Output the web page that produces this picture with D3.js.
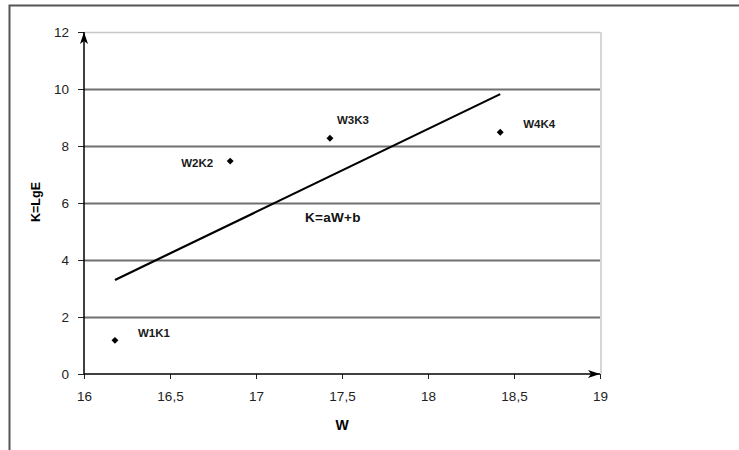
<!DOCTYPE html>
<html>
<head>
<meta charset="utf-8">
<script src="https://cdn.jsdelivr.net/npm/d3@7"></script>
<style>
  body { margin: 0; background: #fff; }
  svg { display: block; font-family: Arial, "Liberation Sans", sans-serif; }
</style>
</head>
<body>
<div id="root"></div>
<script>
// values
const pointLabels = ["W1K1", "W2K2", "W3K3", "W4K4"];
const wValues = [16.18, 16.85, 17.43, 18.42];
const kValues = [1.18, 7.47, 8.27, 8.48];
const fitW = [16.18, 18.42];
const fitK = [3.3, 9.82];
const xTicks = [16, 16.5, 17, 17.5, 18, 18.5, 19];
const yTicks = [0, 2, 4, 6, 8, 10, 12];

// label offsets from their point (px)
const labelDx = [23, -17, 7, 23];
const labelDy = [-3, 6, -14, -4];
const labelAnchor = ["start", "end", "start", "start"];

const W = 739, H = 450;
const plot = { left: 84, right: 600, top: 32, bottom: 374 };

const x = d3.scaleLinear().domain([16, 19]).range([plot.left, plot.right]);
const y = d3.scaleLinear().domain([0, 12]).range([plot.bottom, plot.top]);

const svg = d3.select("#root").append("svg").attr("width", W).attr("height", H);

// outer frame (runs off right and bottom edges)
svg.append("rect")
  .attr("x", 9.5).attr("y", 5.5)
  .attr("width", 760).attr("height", 460)
  .attr("fill", "none").attr("stroke", "#555").attr("stroke-width", 2);

// gridlines
svg.append("g")
  .selectAll("line")
  .data(yTicks.filter((d) => d > 0))
  .enter()
  .append("line")
  .attr("x1", plot.left).attr("x2", plot.right)
  .attr("y1", (d) => Math.round(y(d)) + 0.5).attr("y2", (d) => Math.round(y(d)) + 0.5)
  .attr("stroke", (d) => (d === 12 ? "#c8c8c8" : "#707070"))
  .attr("stroke-width", (d) => (d === 12 ? 1.5 : 2));

// right edge of plot area
svg.append("line")
  .attr("x1", plot.right + 1).attr("x2", plot.right + 1)
  .attr("y1", plot.top).attr("y2", plot.bottom)
  .attr("stroke", "#c8c8c8").attr("stroke-width", 1.5);

const yAxis = d3.axisLeft(y).tickValues(yTicks).tickSize(6).tickPadding(9)
  .tickFormat(d3.format("d"));
const xAxis = d3.axisBottom(x).tickValues(xTicks).tickSize(5).tickPadding(12)
  .tickFormat((d) => String(d).replace(".", ","));

const gy = svg.append("g").attr("transform", `translate(${plot.left},0)`).call(yAxis);
const gx = svg.append("g").attr("transform", `translate(0,${plot.bottom})`).call(xAxis);
[gy, gx].forEach((g) => {
  g.select(".domain").remove();
  g.selectAll("text").attr("font-size", 13.5).attr("fill", "#222")
    .attr("font-family", "Arial, 'Liberation Sans', sans-serif");
  g.selectAll(".tick line").attr("stroke", "#222");
});

// axes with arrow heads
svg.append("defs").append("marker")
  .attr("id", "arrow")
  .attr("viewBox", "0 0 12 8")
  .attr("refX", 12).attr("refY", 4)
  .attr("markerWidth", 12).attr("markerHeight", 8)
  .attr("markerUnits", "userSpaceOnUse")
  .attr("orient", "auto")
  .append("path").attr("d", "M0,0 L12,4 L0,8 L3,4 Z").attr("fill", "#000");

svg.append("line")
  .attr("x1", plot.left).attr("y1", plot.bottom)
  .attr("x2", plot.left).attr("y2", plot.top)
  .attr("stroke", "#000").attr("stroke-width", 1.5)
  .attr("marker-end", "url(#arrow)");
svg.append("line")
  .attr("x1", plot.left).attr("y1", plot.bottom)
  .attr("x2", plot.right).attr("y2", plot.bottom)
  .attr("stroke", "#000").attr("stroke-width", 1.5)
  .attr("marker-end", "url(#arrow)");

// fitted line
svg.append("path")
  .datum(fitW.map((w, i) => [w, fitK[i]]))
  .attr("d", d3.line().x((d) => x(d[0])).y((d) => y(d[1])))
  .attr("stroke", "#000").attr("stroke-width", 2.2).attr("fill", "none");

// points (square turned 45deg, a flat diamond)
const pts = wValues.map((w, i) => ({ w, k: kValues[i], label: pointLabels[i], i }));
svg.append("g")
  .selectAll("path")
  .data(pts)
  .enter()
  .append("path")
  .attr("transform", (d) => `translate(${x(d.w)},${y(d.k)}) rotate(45)`)
  .attr("d", d3.symbol().type(d3.symbolSquare).size(24))
  .attr("fill", "#000");

svg.append("g")
  .selectAll("text")
  .data(pts)
  .enter()
  .append("text")
  .attr("x", (d) => x(d.w) + labelDx[d.i])
  .attr("y", (d) => y(d.k) + labelDy[d.i])
  .attr("text-anchor", (d) => labelAnchor[d.i])
  .attr("font-size", 11.5)
  .attr("font-weight", "bold")
  .attr("fill", "#1a1a1a")
  .text((d) => d.label);

// equation label
svg.append("text")
  .attr("x", 305).attr("y", 222)
  .attr("font-size", 13.5)
  .attr("font-weight", "bold")
  .attr("letter-spacing", 0.3)
  .attr("fill", "#111")
  .text("K=aW+b");

// axis titles
svg.append("text")
  .attr("transform", "translate(40,202) rotate(-90)")
  .attr("text-anchor", "middle")
  .attr("font-size", 12.5).attr("font-weight", "bold")
  .text("K=LgE");
svg.append("text")
  .attr("x", 342).attr("y", 430)
  .attr("text-anchor", "middle")
  .attr("font-size", 14).attr("font-weight", "bold")
  .text("W");
</script>
</body>
</html>
